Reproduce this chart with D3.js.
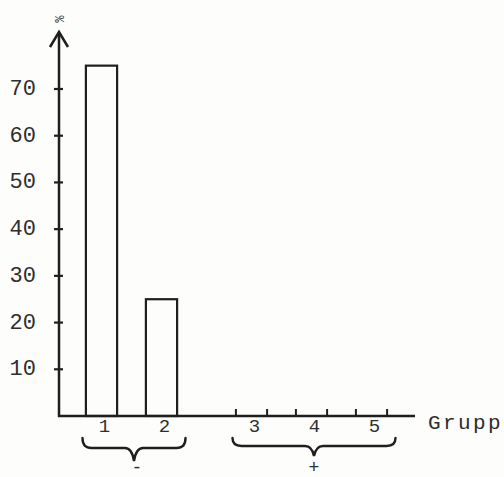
<!DOCTYPE html>
<html><head><meta charset="utf-8">
<script src="https://cdn.jsdelivr.net/npm/d3@7"></script>
<style>
html,body{margin:0;padding:0;background:#fdfdfc;}
svg{display:block;}
text{font-family:"Liberation Mono","Courier New",monospace;fill:#2e2e2e;}
</style></head>
<body>
<script>
// ---- data ----
const groups = ["1", "2", "3", "4", "5"];
const percent = [75, 25, 0, 0, 0];
const yTicks = [10, 20, 30, 40, 50, 60, 70];
const yUnit = "%";
const xTitle = "Grupp";
const braceSets = [
  {label: "-", members: ["1", "2"]},
  {label: "+", members: ["3", "4", "5"]}
];

// ---- layout ----
const W = 504, H = 477;
const svg = d3.select("body").append("svg").attr("width", W).attr("height", H);
const ink = "#1f1f1f";

const baseY = 416, axisX = 59;
const y = d3.scaleLinear().domain([0, 70]).range([baseY, 89]);

// slot scale: a half-slot gap separates the "-" and "+" sets
const slot = d3.scaleLinear().domain([0, 1]).range([101.5, 161.5]);
const slotIndex = g => {
  const i = groups.indexOf(g);
  return i + (i >= 2 ? 0.5 : 0);
};
const x = g => slot(slotIndex(g));
const step = slot(1) - slot(0);
const barW = step * 0.52;

// bars
svg.append("g").selectAll("rect").data(groups.map((g, i) => ({g, v: percent[i]})).filter(d => d.v > 0))
  .join("rect")
  .attr("x", d => x(d.g) - barW / 2)
  .attr("y", d => y(d.v))
  .attr("width", barW)
  .attr("height", d => y(0) - y(d.v))
  .attr("fill", "none").attr("stroke", ink).attr("stroke-width", 2.2);

// zero-value groups: bar edge marks on the axis
const zeroG = svg.append("g");
groups.forEach((g, i) => {
  if (percent[i] === 0) {
    [-1, 1].forEach(s => {
      zeroG.append("line")
        .attr("x1", x(g) + s * barW / 2).attr("x2", x(g) + s * barW / 2)
        .attr("y1", y(0) - 7).attr("y2", y(0) + 1)
        .attr("stroke", ink).attr("stroke-width", 2);
    });
  }
});

// x axis line
svg.append("line").attr("x1", axisX - 1).attr("x2", 415)
  .attr("y1", baseY).attr("y2", baseY)
  .attr("stroke", ink).attr("stroke-width", 2.5);

// y axis with arrow
svg.append("line").attr("x1", axisX).attr("x2", axisX)
  .attr("y1", baseY + 1).attr("y2", 33)
  .attr("stroke", ink).attr("stroke-width", 2.5);
svg.append("path")
  .attr("d", `M${axisX - 9},${47} L${axisX},${32} L${axisX + 9},${47}`)
  .attr("fill", "none").attr("stroke", ink).attr("stroke-width", 2.5)
  .attr("stroke-linejoin", "miter");
svg.append("text").attr("transform", `translate(${axisX - 4},${19}) rotate(90)`)
  .attr("text-anchor", "middle").attr("font-size", 12).text(yUnit);

// y ticks
const yt = svg.append("g");
yTicks.forEach(t => {
  yt.append("line").attr("x1", axisX - 5).attr("x2", axisX + 4)
    .attr("y1", y(t)).attr("y2", y(t)).attr("stroke", ink).attr("stroke-width", 2.2);
  yt.append("text").attr("x", 36).attr("y", y(t) + 6)
    .attr("text-anchor", "end").attr("font-size", 22).text(t);
});

// group labels
svg.append("g").selectAll("text").data(groups).join("text")
  .attr("x", d => x(d) + 3).attr("y", 432)
  .attr("text-anchor", "middle").attr("font-size", 19).text(d => d);

svg.append("text").attr("x", 428).attr("y", 429)
  .attr("font-size", 21).attr("letter-spacing", 2.4).text(xTitle);

// braces
function bracePath(x0, x1, yTop, yFlat, yTip) {
  const m = (x0 + x1) / 2;
  return `M${x0},${yTop} Q${x0},${yFlat} ${x0 + 9},${yFlat}` +
    ` L${m - 9},${yFlat} Q${m - 2},${yFlat} ${m},${yTip}` +
    ` Q${m + 2},${yFlat} ${m + 9},${yFlat}` +
    ` L${x1 - 9},${yFlat} Q${x1},${yFlat} ${x1},${yTop}`;
}
braceSets.forEach((b, k) => {
  const xs = b.members.map(x);
  const x0 = d3.min(xs) - 19, x1 = d3.max(xs) + 24;
  const yTop = 438, yFlat = k === 0 ? 448 : 446, yTip = k === 0 ? 461 : 456;
  svg.append("path").attr("d", bracePath(x0, x1, yTop, yFlat, yTip))
    .attr("fill", "none").attr("stroke", ink).attr("stroke-width", 2.4)
    .attr("stroke-linecap", "round");
  svg.append("text").attr("x", (x0 + x1) / 2 + (k === 0 ? 3 : 0)).attr("y", 473)
    .attr("text-anchor", "middle").attr("font-size", 18).text(b.label);
});
</script>
</body></html>
